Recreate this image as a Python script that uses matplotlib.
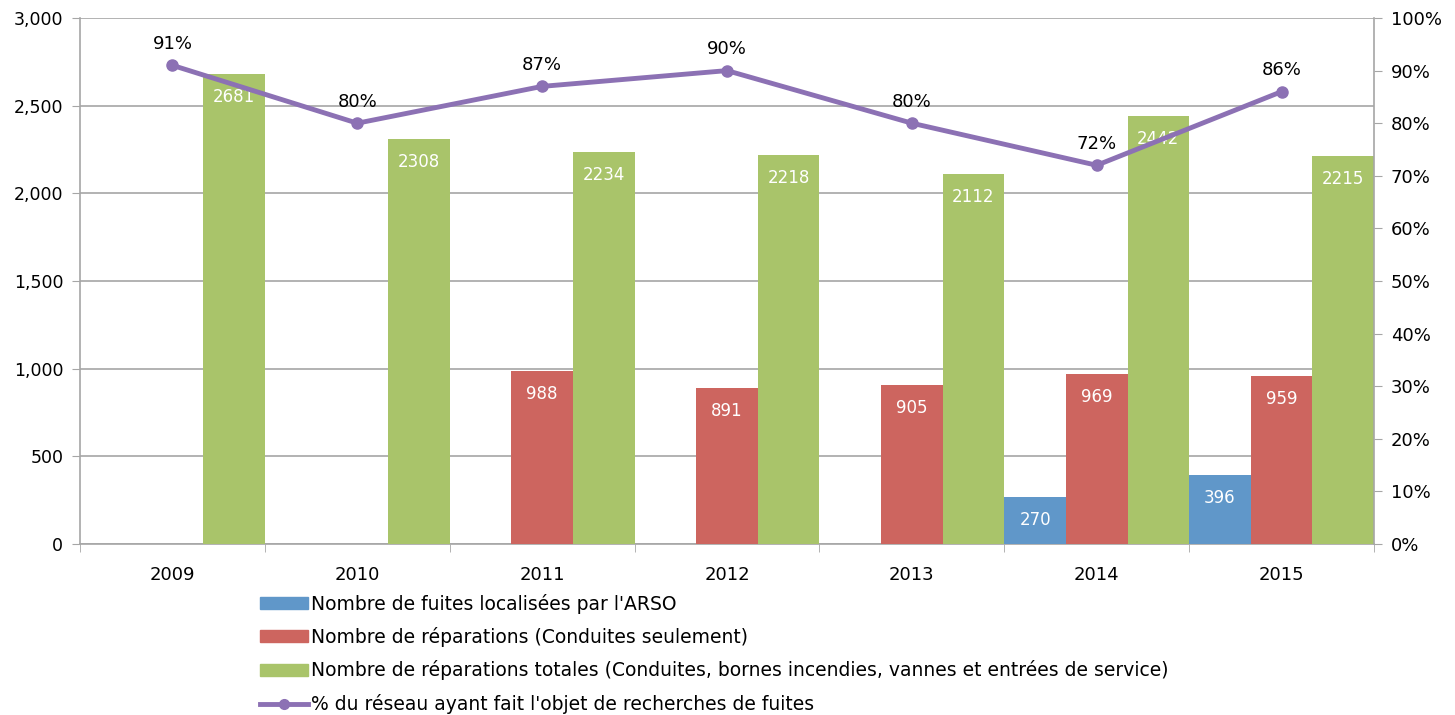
import matplotlib
matplotlib.use("Agg")
import matplotlib.pyplot as plt
import numpy as np
from matplotlib.patches import Patch
from matplotlib.lines import Line2D

years = ["2009", "2010", "2011", "2012", "2013", "2014", "2015"]
fuites_arso = [None, None, None, None, None, 270, 396]
reparations_conduites = [None, None, 988, 891, 905, 969, 959]
reparations_totales = [2681, 2308, 2234, 2218, 2112, 2442, 2215]
pct_reseau = [91, 80, 87, 90, 80, 72, 86]

legend_labels = [
    "Nombre de fuites localisées par l'ARSO",
    "Nombre de réparations (Conduites seulement)",
    "Nombre de réparations totales (Conduites, bornes incendies, vannes et entrées de service)",
    "% du réseau ayant fait l'objet de recherches de fuites",
]

c_blue = "#6097C9"
c_red = "#CD655F"
c_green = "#A9C46A"
c_purple = "#8C71B4"
grid_c = "#A6A6A6"

plt.rcParams['font.family'] = ['DejaVu Sans']

fig = plt.figure(figsize=(14.55, 7.15), dpi=100)
ax = fig.add_axes([80/1455, 1-544/715, (1374-80)/1455, (544-18)/715])
ax2 = ax.twinx()

x = np.arange(len(years))
w = 1/3
series = [(fuites_arso, c_blue, -w), (reparations_conduites, c_red, 0), (reparations_totales, c_green, w)]
for vals, col, off in series:
    for i, v in enumerate(vals):
        if v is None:
            continue
        ax.bar(x[i] + off, v, width=w, color=col, edgecolor="none", zorder=3)
        ax.text(x[i] + off, v - 80, str(v), ha="center", va="top", color="white",
                fontsize=12, zorder=4)

ax.set_xlim(-0.5, len(years) - 0.5)
ax.set_ylim(0, 3000)
ax.set_yticks(np.arange(0, 3001, 500))
ax.set_yticklabels([f"{v:,}" for v in range(0, 3001, 500)], fontsize=12.5)
ax.set_xticks(x)
ax.set_xticklabels(years, fontsize=13)
ax.set_xticks(np.arange(-0.5, len(years)), minor=True)
ax.tick_params(axis="x", which="major", length=0, pad=16)
ax.tick_params(axis="x", which="minor", length=6, color=grid_c)
ax.tick_params(axis="y", length=6, color=grid_c, pad=6)
ax.grid(axis="y", color=grid_c, linewidth=1.2, zorder=0)
ax.set_axisbelow(True)
for s in ["top", "right"]:
    ax.spines[s].set_visible(False)
for s in ["left", "bottom"]:
    ax.spines[s].set_color(grid_c)
    ax.spines[s].set_linewidth(1.2)

ax2.plot(x, pct_reseau, color=c_purple, linewidth=3.5, marker="o", markersize=8, zorder=5)
for i, p in enumerate(pct_reseau):
    ax2.annotate(f"{p}%", (x[i], p), xytext=(0, 9), textcoords="offset points",
                 ha="center", va="bottom", fontsize=13)
ax2.set_ylim(0, 100)
ax2.set_yticks(np.arange(0, 101, 10))
ax2.set_yticklabels([f"{v}%" for v in range(0, 101, 10)], fontsize=13)
ax2.tick_params(axis="y", length=6, color=grid_c, pad=6)
for s in ["top", "left", "bottom"]:
    ax2.spines[s].set_visible(False)
ax2.spines["right"].set_color(grid_c)
ax2.spines["right"].set_linewidth(1.2)

handles = [
    Patch(color=c_blue),
    Patch(color=c_red),
    Patch(color=c_green),
    Line2D([0], [0], color=c_purple, linewidth=3.5, marker="o", markersize=7),
]
fig.legend(handles, legend_labels, loc="upper left", bbox_to_anchor=(252/1455, 1-586/715),
           frameon=False, fontsize=13.5, handlelength=2.6, handleheight=0.6,
           handletextpad=0.15, labelspacing=0.72, borderaxespad=0)

fig.savefig("out.png", dpi=100)
